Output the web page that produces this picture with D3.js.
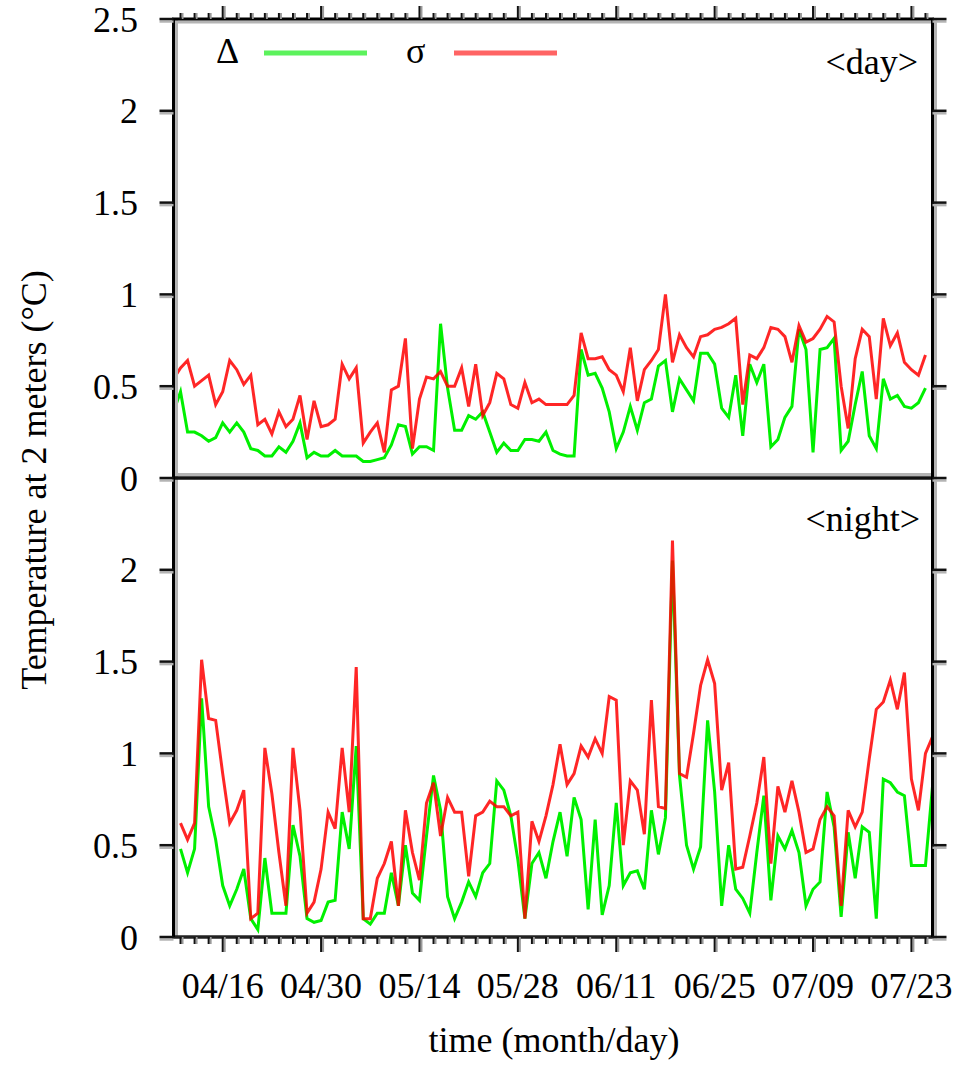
<!DOCTYPE html>
<html>
<head>
<meta charset="utf-8">
<script src="https://cdn.jsdelivr.net/npm/d3@7"></script>
<style>
  body { margin: 0; background: #fff; }
  svg { display: block; }
  text { font-family: "Liberation Serif", "Times New Roman", serif; fill: #000; }
</style>
</head>
<body>
<svg id="chart" width="955" height="1068"></svg>
<script>
// Daily series: day values start 2010-04-09, night values start 2010-04-10
const dayStart = "2010-04-09";
const nightStart = "2010-04-10";
const rangeStart = "2010-04-09";
const rangeEnd = "2010-07-26";

// <day> panel
const dayDelta = [
  0.36, 0.47, 0.25, 0.25, 0.23, 0.20, 0.22, 0.30, 0.25, 0.30, 0.25, 0.16, 0.15, 0.12,
  0.12, 0.17, 0.14, 0.20, 0.30, 0.11, 0.14, 0.12, 0.12, 0.15, 0.12, 0.12, 0.12, 0.09,
  0.09, 0.10, 0.11, 0.18, 0.29, 0.28, 0.13, 0.17, 0.17, 0.15, 0.84, 0.49, 0.26, 0.26,
  0.34, 0.32, 0.36, 0.25, 0.14, 0.19, 0.15, 0.15, 0.21, 0.21, 0.20, 0.25, 0.15,
  0.13, 0.12, 0.12, 0.70, 0.56, 0.57, 0.49, 0.36, 0.16, 0.25, 0.39, 0.26, 0.41, 0.43,
  0.61, 0.64, 0.36, 0.54, 0.48, 0.42, 0.68, 0.68, 0.62, 0.38, 0.33, 0.56, 0.23,
  0.62, 0.52, 0.62, 0.17, 0.21, 0.33, 0.39, 0.81, 0.70, 0.14, 0.70, 0.71, 0.76, 0.15,
  0.20, 0.40, 0.58, 0.23, 0.16, 0.54, 0.43, 0.45, 0.39, 0.38, 0.41, 0.49
];
const daySigma = [
  0.54, 0.60, 0.64, 0.50, 0.53, 0.56, 0.40, 0.47, 0.64, 0.59, 0.51, 0.56, 0.29, 0.32,
  0.24, 0.36, 0.28, 0.32, 0.45, 0.21, 0.42, 0.28, 0.29, 0.32, 0.62, 0.54, 0.60, 0.19,
  0.25, 0.30, 0.14, 0.48, 0.50, 0.76, 0.16, 0.43, 0.55, 0.54, 0.58, 0.50, 0.50, 0.60,
  0.39, 0.62, 0.34, 0.41, 0.57, 0.54, 0.40, 0.38, 0.52, 0.41, 0.43, 0.40, 0.40,
  0.40, 0.40, 0.45, 0.79, 0.65, 0.65, 0.66, 0.59, 0.56, 0.47, 0.71, 0.42, 0.59, 0.64,
  0.70, 1.00, 0.63, 0.78, 0.71, 0.66, 0.77, 0.78, 0.81, 0.82, 0.84, 0.87, 0.40,
  0.67, 0.65, 0.71, 0.82, 0.81, 0.77, 0.63, 0.83, 0.74, 0.76, 0.81, 0.88, 0.85, 0.50,
  0.27, 0.65, 0.81, 0.77, 0.43, 0.87, 0.72, 0.79, 0.63, 0.59, 0.56, 0.67
];

// <night> panel
const nightDelta = [
  0.48, 0.35, 0.48, 1.30, 0.71, 0.53, 0.28, 0.17, 0.26, 0.37, 0.10, 0.04, 0.43, 0.13,
  0.13, 0.13, 0.61, 0.44, 0.10, 0.08, 0.09, 0.19, 0.20, 0.68, 0.48, 1.04, 0.10, 0.07,
  0.13, 0.13, 0.35, 0.17, 0.50, 0.24, 0.20, 0.55, 0.88, 0.69, 0.22, 0.10, 0.19, 0.30,
  0.22, 0.35, 0.40, 0.85, 0.80, 0.66, 0.42, 0.10, 0.40, 0.46, 0.32, 0.52, 0.68,
  0.44, 0.76, 0.64, 0.15, 0.64, 0.12, 0.28, 0.73, 0.28, 0.35, 0.36, 0.26, 0.69, 0.45,
  0.65, 2.05, 0.88, 0.50, 0.37, 0.49, 1.18, 0.79, 0.17, 0.50, 0.26, 0.21, 0.13,
  0.46, 0.77, 0.20, 0.55, 0.48, 0.58, 0.46, 0.17, 0.26, 0.30, 0.79, 0.60, 0.11, 0.57,
  0.32, 0.60, 0.57, 0.10, 0.86, 0.84, 0.79, 0.77, 0.39, 0.39, 0.39, 0.82
];
const nightSigma = [
  0.62, 0.53, 0.62, 1.51, 1.19, 1.18, 0.89, 0.62, 0.69, 0.80, 0.10, 0.13, 1.03, 0.78,
  0.46, 0.17, 1.03, 0.69, 0.13, 0.19, 0.37, 0.68, 0.59, 1.03, 0.68, 1.47, 0.10, 0.10,
  0.32, 0.40, 0.52, 0.17, 0.69, 0.46, 0.31, 0.73, 0.84, 0.55, 0.76, 0.68, 0.68, 0.33,
  0.66, 0.68, 0.74, 0.71, 0.71, 0.66, 0.68, 0.10, 0.63, 0.52, 0.66, 0.83, 1.05,
  0.83, 0.89, 1.04, 0.98, 1.08, 1.00, 1.31, 1.29, 0.50, 0.85, 0.80, 0.56, 1.29, 0.71,
  0.70, 2.16, 0.89, 0.87, 1.11, 1.37, 1.51, 1.38, 0.80, 0.95, 0.37, 0.38, 0.55,
  0.73, 0.98, 0.40, 0.82, 0.68, 0.85, 0.68, 0.46, 0.48, 0.64, 0.71, 0.66, 0.17, 0.69,
  0.60, 0.68, 0.97, 1.24, 1.28, 1.40, 1.24, 1.44, 0.86, 0.69, 1.00, 1.09
];

const xTickLabels = ["04/16", "04/30", "05/14", "05/28", "06/11", "06/25", "07/09", "07/23"];
const minorTickStart = "2010-04-10";
const yTicksDay = [0, 0.5, 1, 1.5, 2, 2.5];
const yTicksNight = [0, 0.5, 1, 1.5, 2];
const legendItems = [
  { symbol: "Δ", color: "#5cf25c" },
  { symbol: "σ", color: "#ff6464" }
];
const panelLabels = ["<day>", "<night>"];
const yTitle = "Temperature at 2 meters (°C)";
const xTitle = "time (month/day)";

// ---- layout ----
const FS = 36;
const frame = { left: 173.5, right: 932.5, top: 19, mid: 478, bottom: 937 };
const parse = d3.utcParse("%Y-%m-%d");
const svg = d3.select("#chart");

const x = d3.scaleUtc()
  .domain([parse(rangeStart), parse(rangeEnd)])
  .range([frame.left, frame.right]);
const yDay = d3.scaleLinear().domain([0, 2.5]).range([frame.mid, frame.top]);
const yNight = d3.scaleLinear().domain([0, 2.5]).range([frame.bottom, frame.mid]);

const toSeries = (start, vals) =>
  vals.map((v, i) => ({ date: d3.utcDay.offset(parse(start), i), v }));

// ---- data lines ----
function drawLines(start, deltaVals, sigmaVals, y) {
  const line = d3.line().x(d => x(d.date)).y(d => y(d.v));
  svg.append("path")
    .datum(toSeries(start, deltaVals))
    .attr("d", line)
    .attr("fill", "none")
    .attr("stroke", "#00f000")
    .attr("stroke-width", 3);
  svg.append("path")
    .datum(toSeries(start, sigmaVals))
    .attr("d", line)
    .attr("fill", "none")
    .attr("stroke", "#ff0000")
    .attr("stroke-opacity", 0.85)
    .attr("stroke-width", 3);
}
drawLines(dayStart, dayDelta, daySigma, yDay);
drawLines(nightStart, nightDelta, nightSigma, yNight);

// ---- frame with soft grey edge ----
const grey = "#b4b4b4";
function hline(x1, x2, yy, color, w) {
  svg.append("line").attr("x1", x1).attr("x2", x2).attr("y1", yy).attr("y2", yy)
    .attr("stroke", color).attr("stroke-width", w);
}
function vline(xx, y1, y2, color, w) {
  svg.append("line").attr("x1", xx).attr("x2", xx).attr("y1", y1).attr("y2", y2)
    .attr("stroke", color).attr("stroke-width", w);
}
hline(frame.left, frame.right, frame.top + 3, grey, 3);
vline(frame.left + 3, frame.top, frame.bottom, grey, 3);
vline(frame.right + 3, frame.top, frame.bottom + 2, grey, 3);
hline(frame.left, frame.right, frame.mid - 3.5, grey, 3);

hline(frame.left - 1.5, frame.right + 1.5, frame.top, "#000", 3);
hline(frame.left - 1.5, frame.right + 1.5, frame.mid, "#111", 3.5);
hline(frame.left - 1.5, frame.right + 1.5, frame.bottom, "#222", 3.5);
vline(frame.left, frame.top, frame.bottom, "#000", 3);
vline(frame.right, frame.top, frame.bottom, "#000", 3);

// ---- y ticks on both sides ----
function yTicks(ticks, y) {
  ticks.forEach(t => {
    const yy = y(t);
    hline(frame.left - 14, frame.left, yy + 2.5, grey, 2.5);
    hline(frame.left - 14, frame.left, yy, "#111", 2.5);
    hline(frame.right, frame.right + 14, yy + 2.5, grey, 2.5);
    hline(frame.right, frame.right + 14, yy, "#111", 2.5);
    svg.append("text")
      .attr("x", 138).attr("y", yy)
      .attr("dy", "0.35em")
      .attr("text-anchor", "end")
      .attr("font-size", FS)
      .text(d3.format("~g")(t));
  });
}
yTicks(yTicksDay, yDay);
yTicks(yTicksNight, yNight);

// ---- x ticks (every 2 days, labelled every 14) ----
const fmt = d3.utcFormat("%m/%d");
const minorDates = d3.utcDay.range(parse(minorTickStart), parse(rangeEnd), 2);
const majorSet = new Set(xTickLabels);
minorDates.forEach(d => {
  const xx = x(d);
  const major = majorSet.has(fmt(d));
  const len = major ? 13 : 6;
  vline(xx + 2, frame.top - len, frame.top, "#9a9a9a", 2);
  vline(xx, frame.top - len, frame.top, "#111", 2);
  vline(xx + 2, frame.bottom, frame.bottom + (major ? 15 : 7), "#9a9a9a", 2);
  vline(xx, frame.bottom, frame.bottom + (major ? 15 : 7), "#111", 2);
});
xTickLabels.forEach(lbl => {
  const d = parse("2010-" + lbl.replace("/", "-"));
  svg.append("text")
    .attr("x", x(d)).attr("y", 998)
    .attr("text-anchor", "middle")
    .attr("font-size", FS)
    .text(lbl);
});

// ---- titles ----
svg.append("text")
  .attr("x", 554).attr("y", 1052)
  .attr("text-anchor", "middle")
  .attr("font-size", FS)
  .text(xTitle);
svg.append("text")
  .attr("transform", "translate(46,480) rotate(-90)")
  .attr("text-anchor", "middle")
  .attr("font-size", FS)
  .text(yTitle);

// ---- panel labels ----
svg.append("text").attr("x", 918).attr("y", 74)
  .attr("text-anchor", "end").attr("font-size", FS).text(panelLabels[0]);
svg.append("text").attr("x", 920).attr("y", 531)
  .attr("text-anchor", "end").attr("font-size", FS).text(panelLabels[1]);

// ---- legend ----
const legendX = [216, 406];
legendItems.forEach((item, i) => {
  svg.append("text").attr("x", legendX[i]).attr("y", 63)
    .attr("font-size", FS).text(item.symbol);
  hline(legendX[i] + 48, legendX[i] + 151, 53, item.color, 5);
});
</script>
</body>
</html>
